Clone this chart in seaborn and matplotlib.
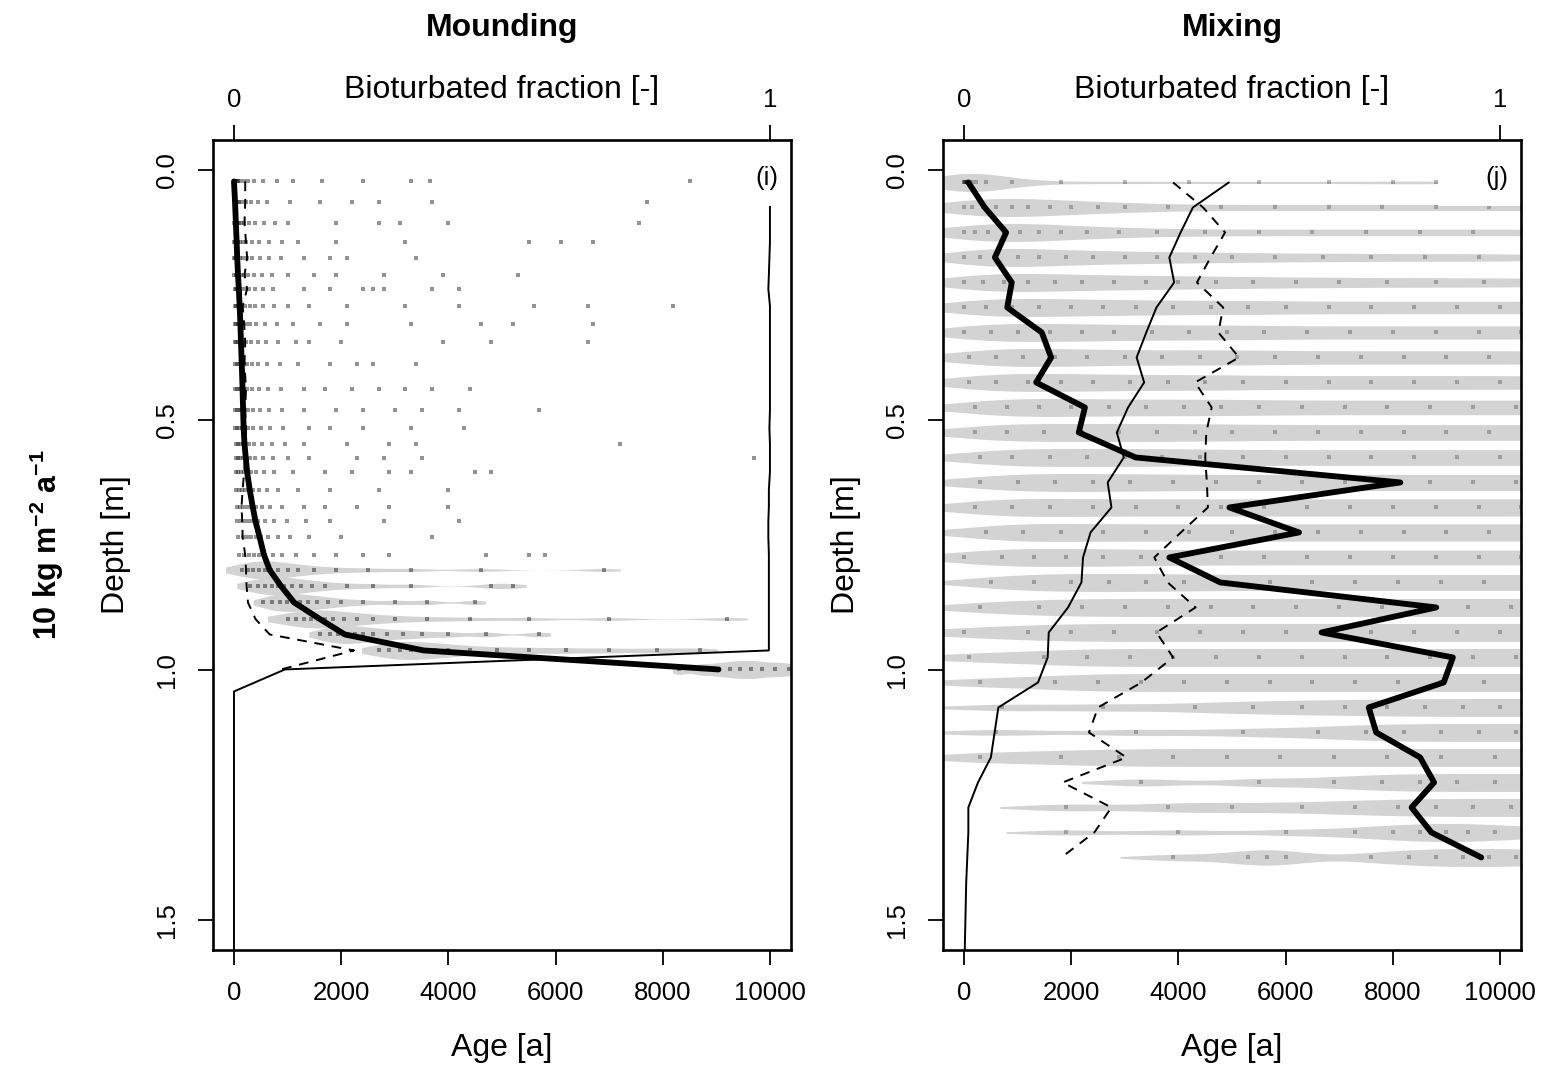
import numpy as np
import pandas as pd
import matplotlib
matplotlib.use("Agg")
import matplotlib.pyplot as plt
from matplotlib.patches import Rectangle
import seaborn as sns

sns.set_theme(style="ticks")
plt.rcParams["font.family"] = ["Liberation Sans", "DejaVu Sans"]
plt.rcParams["mathtext.fontset"] = "custom"
plt.rcParams["mathtext.rm"] = "Liberation Sans"
plt.rcParams["mathtext.bf"] = "Liberation Sans:bold"
plt.rcParams["mathtext.it"] = "Liberation Sans:italic"
plt.rcParams["text.color"] = "black"
plt.rcParams["axes.labelcolor"] = "black"
plt.rcParams["xtick.color"] = "black"
plt.rcParams["ytick.color"] = "black"

# ---------------- data: panel (i) Mounding ----------------
depth_i = [0.023, 0.065, 0.106, 0.144, 0.176, 0.21, 0.238, 0.272, 0.308, 0.344,
           0.388, 0.438, 0.48, 0.516, 0.548, 0.576, 0.604, 0.64, 0.674, 0.702,
           0.734, 0.77, 0.8, 0.832, 0.865, 0.898, 0.929, 0.961, 0.999]
median_age_i = [0, 20, 35, 50, 60, 75, 90, 105, 120, 130,
                145, 160, 170, 180, 196, 220, 245, 294, 350, 400,
                477, 560, 665, 876, 1121, 1600, 2067, 3540, 9040]
dashed_age_i = [210, 210, 196, 224, 245, 196, 245, 161, 189, 210,
                196, 224, 210, 224, 224, 210, 189, 161, 140, 154,
                161, 210, 224, 235, 260, 400, 666, 2240, 876]
frac_depth_i = depth_i + [1.043, 1.6]
frac_i = [1.0, 1.0, 1.0, 1.0, 0.999, 0.998, 0.997, 1.0, 1.0, 1.0,
          1.0, 1.0, 1.0, 0.999, 1.0, 1.0, 1.0, 0.998, 0.998, 0.997,
          0.997, 0.998, 0.998, 0.998, 0.998, 0.998, 0.998, 0.998, 0.095, 0.0, 0.0]
ages_i = [
    [0, 5, 15, 30, 50, 80, 120, 180, 260, 380, 550, 800, 1100, 1650, 2400, 3300, 3650, 8500],
    [0, 10, 25, 45, 70, 100, 150, 220, 320, 450, 620, 1050, 1600, 2200, 2700, 3700, 7700],
    [0, 15, 35, 60, 90, 130, 190, 280, 400, 560, 760, 1000, 1900, 2700, 3100, 4000, 7550],
    [0, 20, 40, 70, 110, 160, 230, 330, 470, 650, 900, 1200, 1900, 3200, 5500, 6100, 6700],
    [5, 25, 50, 80, 120, 170, 240, 340, 480, 650, 880, 1300, 1800, 2100, 3400],
    [5, 30, 60, 90, 130, 190, 270, 380, 520, 700, 1000, 1500, 1900, 2800, 3900, 5300],
    [10, 35, 65, 100, 140, 200, 280, 390, 540, 720, 1300, 1800, 2400, 2600, 2800, 3700, 4200],
    [10, 35, 70, 110, 150, 210, 290, 400, 550, 750, 1000, 1400, 2100, 3200, 4200, 5600, 6600, 8200],
    [10, 40, 75, 115, 160, 220, 300, 420, 580, 800, 1100, 1600, 2100, 3300, 4600, 5200, 6700],
    [15, 45, 80, 120, 170, 230, 320, 440, 600, 820, 1150, 1400, 2000, 3900, 4800, 6600],
    [15, 50, 85, 130, 180, 240, 330, 450, 620, 850, 1200, 1800, 2300, 2600, 3400],
    [20, 55, 90, 135, 190, 250, 340, 470, 640, 880, 1300, 1700, 2200, 2700, 3200, 3700, 4400],
    [20, 55, 95, 140, 195, 260, 350, 480, 660, 900, 1300, 1900, 2400, 3000, 3500, 4200, 5700],
    [25, 60, 100, 150, 200, 270, 360, 500, 680, 920, 1400, 1800, 2400, 3300, 4300],
    [30, 70, 110, 160, 210, 280, 380, 520, 700, 950, 1300, 2100, 2900, 3400, 7200],
    [30, 75, 120, 170, 225, 300, 400, 540, 720, 1000, 1400, 2300, 2800, 3500, 9700],
    [35, 80, 130, 180, 240, 320, 420, 560, 750, 1100, 1700, 2200, 2900, 3300, 4500, 4800],
    [40, 95, 150, 210, 280, 360, 470, 620, 820, 1200, 1800, 2700, 4000],
    [50, 110, 175, 245, 320, 410, 520, 680, 900, 1300, 1700, 2300, 2900, 4000],
    [60, 130, 200, 280, 360, 450, 570, 740, 980, 1350, 1800, 2800, 4200],
    [80, 160, 240, 320, 410, 510, 640, 820, 1050, 1400, 2000, 3700],
    [100, 190, 280, 370, 470, 580, 720, 900, 1150, 1500, 1900, 2400, 2900, 4700, 5500, 5800],
    [150, 260, 360, 460, 570, 690, 830, 1000, 1200, 1500, 1900, 2500, 3300, 4600, 6900],
    [300, 450, 580, 700, 820, 940, 1080, 1250, 1450, 1700, 2100, 2600, 3300, 4800, 5200],
    [550, 700, 850, 980, 1100, 1230, 1380, 1550, 1750, 2000, 2400, 3000, 3600, 4500],
    [1000, 1150, 1300, 1430, 1560, 1700, 1850, 2050, 2300, 2600, 3000, 3600, 4400, 5500, 7000, 9200],
    [1600, 1800, 1950, 2100, 2250, 2400, 2600, 2850, 3150, 3500, 4000, 4700, 5700],
    [2700, 2900, 3100, 3300, 3500, 3750, 4000, 4400, 4900, 5500, 6200, 7000, 7900, 8700],
    [8300, 8700, 9000, 9250, 9450, 9650, 9850, 10100, 10350],
]
violin_depth_i = [0.8, 0.832, 0.865, 0.898, 0.929, 0.961, 0.999]

# ---------------- data: panel (j) Mixing ----------------
depth_j = [0.025, 0.075, 0.125, 0.175, 0.225, 0.275, 0.325, 0.375, 0.425, 0.475,
           0.525, 0.575, 0.625, 0.675, 0.725, 0.775, 0.825, 0.875, 0.925, 0.975,
           1.025, 1.075, 1.125, 1.175, 1.225, 1.275, 1.325, 1.375]
median_age_j = [80, 385, 785, 575, 890, 805, 1450, 1625, 1345, 2255,
                2140, 3200, 8140, 4950, 6250, 3830, 4780, 8810, 6670, 9120,
                8950, 7550, 7690, 8510, 8770, 8350, 8720, 9650]
dashed_age_j = [3900, 4460, 4870, 4600, 4345, 4835, 4745, 5130, 4310, 4620,
                4520, 4500, 4530, 4550, 4045, 3550, 3800, 4320, 3590, 3900,
                3310, 2500, 2330, 3030, 1840, 2750, 2430, 1815]
frac_depth_j = depth_j + [1.425, 1.475, 1.525, 1.575]
frac_j = [0.494, 0.427, 0.404, 0.383, 0.392, 0.359, 0.34, 0.322, 0.336, 0.306,
          0.285, 0.298, 0.268, 0.275, 0.236, 0.222, 0.219, 0.194, 0.158, 0.156,
          0.138, 0.064, 0.057, 0.05, 0.026, 0.008, 0.008, 0.006,
          0.004, 0.003, 0.002, 0.001]
ages_j = [
    [0, 0, 10, 25, 40, 60, 80, 110, 150, 220, 400, 900, 1800, 3000, 4200, 5500, 6800, 8000, 8800],
    [0, 150, 350, 600, 900, 1200, 1600, 2000, 2500, 3000, 3800, 4800, 5800, 6800, 7800, 8800, 9800, 10800, 11800],
    [0, 200, 450, 750, 1050, 1400, 1800, 2300, 2900, 3600, 4500, 5500, 6500, 7500, 8500, 9500, 10500, 11500],
    [0, 300, 600, 1000, 1400, 1900, 2400, 3000, 3600, 4300, 5000, 5800, 6700, 7600, 8600, 9600, 10600],
    [0, 350, 750, 1200, 1700, 2200, 2800, 3400, 4000, 4700, 5400, 6200, 7000, 7900, 8800, 9700, 10700, 11700],
    [0, 400, 900, 1400, 2000, 2600, 3200, 3900, 4600, 5300, 6000, 6800, 7600, 8400, 9200, 10000, 10800, 11600, 12400],
    [0, 500, 1000, 1600, 2200, 2800, 3500, 4200, 4900, 5600, 6400, 7200, 8000, 8800, 9600, 10400, 11200, 12000],
    [100, 600, 1100, 1700, 2300, 3000, 3700, 4400, 5100, 5800, 6600, 7400, 8200, 9000, 9800, 10600, 11400, 12200],
    [100, 600, 1200, 1800, 2400, 3100, 3800, 4500, 5200, 6000, 6800, 7600, 8400, 9200, 10000, 10800, 11600],
    [200, 800, 1400, 2000, 2700, 3400, 4100, 4800, 5500, 6300, 7100, 7900, 8700, 9500, 10300, 11100, 11900, 12700],
    [200, 800, 1500, 2200, 2900, 3600, 4300, 5000, 5800, 6600, 7400, 8200, 9000, 9800, 10600, 11400, 12200, 13000],
    [300, 900, 1600, 2300, 3000, 3700, 4400, 5200, 6000, 6800, 7600, 8400, 9200, 10000, 10800, 11600, 12400, 13200],
    [300, 1000, 1700, 2400, 3100, 3900, 4700, 5500, 6300, 7100, 7900, 8700, 9500, 10300, 11100, 11900, 12700, 13500],
    [200, 900, 1600, 2400, 3200, 4000, 4800, 5600, 6400, 7200, 8000, 8800, 9600, 10400, 11200, 12000, 12800],
    [400, 1100, 1800, 2600, 3400, 4200, 5000, 5800, 6600, 7400, 8200, 9000, 9800, 10600, 11400, 12200, 13000],
    [0, 700, 1300, 1900, 2600, 3300, 4000, 4800, 5600, 6400, 7200, 8000, 8800, 9600, 10400, 11200, 12000, 12800],
    [500, 1300, 2000, 2700, 3400, 4100, 4900, 5700, 6500, 7300, 8100, 8900, 9700, 10500, 11300, 12100],
    [300, 1400, 2200, 3000, 3800, 4600, 5400, 6200, 7000, 7800, 8600, 9400, 10200, 11000, 11800, 12600],
    [0, 1200, 2000, 2800, 3600, 4400, 5200, 6000, 6800, 7600, 8400, 9200, 10000, 10800, 11600, 12400, 13200],
    [100, 1500, 2300, 3100, 3900, 4700, 5500, 6300, 7100, 7900, 8700, 9500, 10300, 11100, 11900, 12700, 13500],
    [300, 1700, 2500, 3300, 4100, 4900, 5700, 6500, 7300, 8100, 8900, 9700, 10500, 11300, 12100, 12900, 13700],
    [700, 2600, 4300, 5400, 6300, 7100, 7900, 8600, 9300, 10000, 10700, 11400, 12100, 12800, 13500],
    [600, 3200, 5200, 6600, 7500, 8200, 8900, 9600, 10300, 11000, 11700, 12400, 13100, 13800],
    [300, 1800, 2900, 3900, 4900, 5900, 6900, 7900, 8900, 9900, 10900, 11900, 12900, 13900],
    [3300, 5500, 6900, 7800, 8500, 9200, 9900, 10600, 11300, 12000, 12700, 13400],
    [1900, 3800, 5000, 6300, 7300, 8100, 8800, 9500, 10200, 10900, 11600, 12400, 13200],
    [1900, 4000, 6000, 7300, 8000, 8500, 9000, 9400, 9900, 10600, 11500, 12500],
    [3900, 5300, 5650, 6000, 7600, 8300, 8800, 9300, 9800, 10300, 10800, 11500, 12300, 13100],
]
violin_depth_j = depth_j

titles = ["Mounding", "Mixing"]
tags = ["(i)", "(j)"]
age_ticks = [0, 2000, 4000, 6000, 8000, 10000]
depth_ticks = [0.0, 0.5, 1.0, 1.5]
frac_ticks = [0, 1]

# ---------------- drawing ----------------
TICK_FS = 18.5
LAB_FS = 23


def long_table(depths, ages):
    rows = [(d, a) for d, lst in zip(depths, ages) for a in lst]
    return pd.DataFrame(rows, columns=["depth", "age"])


def panel(ax, depths, ages, vdepths, median, dashed, fdepth, frac, title, tag,
          bw, cut, dot_alpha, dot_size):
    df = long_table(depths, ages)
    sub = df[df["depth"].isin(vdepths)]
    spacing = np.min(np.diff(np.sort(np.unique(vdepths))))
    sns.violinplot(data=sub, x="age", y="depth", orient="h", native_scale=True,
                   width=0.036 / spacing, density_norm="width", inner=None,
                   linewidth=0, color="#d3d3d3", saturation=1, bw_adjust=bw,
                   cut=cut, gridsize=400, ax=ax)
    sns.scatterplot(data=df, x="age", y="depth", s=dot_size, marker="s",
                    color="#111111", alpha=dot_alpha, linewidth=0, legend=False, ax=ax)
    sns.lineplot(x=median, y=depths, sort=False, estimator=None, color="black",
                 linewidth=4.2, ax=ax)
    sns.lineplot(x=dashed, y=depths, sort=False, estimator=None, color="black",
                 linewidth=1.4, linestyle=(0, (5, 4)), ax=ax)

    ax.set_xlim(-400, 10400)
    ax.set_ylim(1.56, -0.06)
    ax.set_xticks(age_ticks)
    ax.set_xticklabels([str(t) for t in age_ticks])
    ax.set_yticks(depth_ticks)
    ax.set_yticklabels([f"{t:.1f}" for t in depth_ticks], rotation=90, va="center")
    ax.tick_params(axis="both", direction="out", length=11, width=1.3,
                   labelsize=TICK_FS, color="black", labelcolor="black")
    ax.tick_params(axis="x", pad=11)
    ax.tick_params(axis="y", pad=13)
    ax.set_xlabel("")
    ax.set_ylabel("")
    for s in ax.spines.values():
        s.set_visible(True)
        s.set_linewidth(1.9)
        s.set_color("black")
    ax.set_facecolor("white")

    top = ax.twiny()
    sns.lineplot(x=frac, y=fdepth, sort=False, estimator=None, color="black",
                 linewidth=1.4, ax=top)
    top.set_xlim(-0.04, 1.04)
    top.set_xticks(frac_ticks)
    top.set_xticklabels([str(t) for t in frac_ticks])
    top.tick_params(axis="x", direction="out", length=11, width=1.3,
                    labelsize=TICK_FS, pad=9, color="black", labelcolor="black")
    top.set_xlabel("")
    top.set_ylabel("")
    for s in top.spines.values():
        s.set_visible(False)
    ax.set_ylim(1.56, -0.06)

    top.add_patch(Rectangle((0.855, 0.918), 0.142, 0.079, transform=top.transAxes,
                            facecolor="white", edgecolor="none", zorder=5))
    top.text(0.957, 0.953, tag, transform=top.transAxes, ha="center", va="center",
             fontsize=TICK_FS, color="black", zorder=6)

    ax.text(0.5, 1.138, title, transform=ax.transAxes, ha="center", va="center",
            fontsize=LAB_FS, fontweight="bold", color="black")
    ax.text(0.5, 1.062, "Bioturbated fraction [-]", transform=ax.transAxes,
            ha="center", va="center", fontsize=LAB_FS, color="black")
    ax.text(0.5, -0.121, "Age [a]", transform=ax.transAxes, ha="center",
            va="center", fontsize=LAB_FS, color="black")
    ax.text(-0.167, 0.5, "Depth [m]", transform=ax.transAxes, ha="center",
            va="center", rotation=90, fontsize=LAB_FS, color="black")


fig = plt.figure(figsize=(15.56, 10.74), dpi=100)
fig.patch.set_facecolor("white")
ax_i = fig.add_axes([0.1366, 0.1155, 0.3720, 0.7542])
ax_j = fig.add_axes([0.6058, 0.1155, 0.3720, 0.7542])

panel(ax_i, depth_i, ages_i, violin_depth_i, median_age_i, dashed_age_i,
      frac_depth_i, frac_i, titles[0], tags[0], 0.35, 0.8, 0.45, 8)
panel(ax_j, depth_j, ages_j, violin_depth_j, median_age_j, dashed_age_j,
      frac_depth_j, frac_j, titles[1], tags[1], 0.4, 1.5, 0.28, 7)

ax_i.text(-0.286, 0.5, r"$\mathbf{10\ kg\ m^{-2}\ a^{-1}}$", transform=ax_i.transAxes,
          ha="center", va="center", rotation=90, fontsize=22, color="black")

fig.savefig("out.png", dpi=100, facecolor="white")
